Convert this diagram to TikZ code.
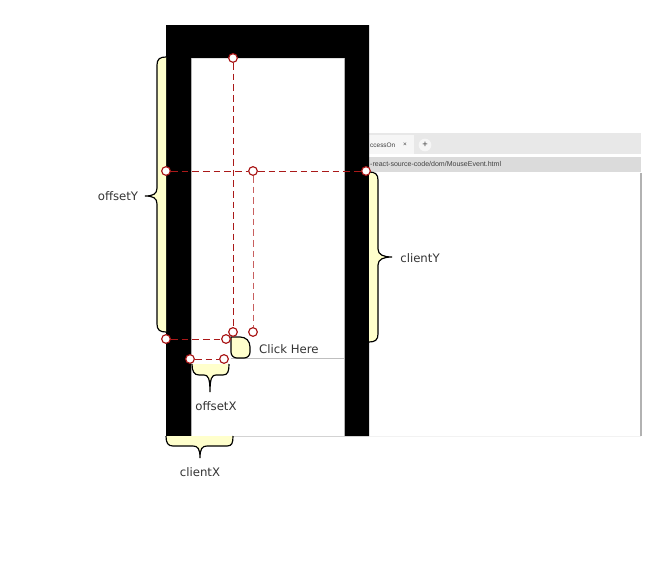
\documentclass[tikz,border=0pt]{standalone}
\usepackage{fontspec}
\setmainfont{DejaVu Sans}
\newfontfamily\uifont{Liberation Sans}
\definecolor{markred}{RGB}{170,25,25}
\definecolor{marklight}{RGB}{200,95,95}
\definecolor{braceyellow}{RGB}{255,255,204}
\definecolor{labelgray}{RGB}{51,51,51}
\begin{document}
\begin{tikzpicture}[x=0.03cm,y=-0.03cm,
    marker/.style={circle,draw=markred,fill=white,line width=1pt,minimum size=0.26cm,inner sep=0pt},
    guide/.style={draw=markred,line width=0.8pt,dash pattern=on 0.2cm off 0.12cm},
    guidelight/.style={guide,draw=marklight},
    curly/.style={draw=black,fill=braceyellow,line width=1pt},
    lbl/.style={text=labelgray,font=\fontsize{10}{12}\selectfont},
    ui/.style={text=black!75,inner sep=0pt,font=\uifont\fontsize{5.5}{6}\selectfont}]
  \useasboundingbox (0,0) rectangle (666,582);
  % browser behind the frame
  \fill[gray!18] (344,133) rectangle (641,154);
  \fill[gray!7] (344,135) rectangle (414,154);
  \fill[gray!28] (344,157) rectangle (641,172);
  \node[ui,anchor=west] (tab) at (370,145) {ccessOn};
  \node[ui] (tabx) at (405,145) {×};
  \node[ui,circle,fill=gray!7,inner sep=1.5pt,font=\uifont\fontsize{8}{8}\selectfont] (plus) at (425,145) {+};
  \node[ui,anchor=west,font=\uifont\fontsize{6}{7}\selectfont] (url) at (370,164) {-react-source-code/dom/MouseEvent.html};
  \draw[gray!60,line width=1pt] (641,173) -- (641,436);
  \draw[gray!10] (166,436) -- (641,436);
  % frame
  \fill[black,even odd rule] (166,25) rectangle (369,436) (191,58) rectangle (344,436);
  \draw[gray!60] (191,58) -- (191,436) (344,58) -- (344,436);
  % click element
  \draw[gray!50] (231,358) -- (344,358);
  \draw[curly] (231,337) -- (240,337) .. controls (246,337) and (250,341) .. (250,347) -- (250,352)
    .. controls (250,355.5) and (247.5,358) .. (244,358) -- (237,358)
    .. controls (233.5,358) and (231,355.5) .. (231,352) -- cycle;
  \node[lbl,anchor=west] (click) at (255,349) {Click Here};
  % braces
  \draw[curly] (166,57) .. controls (160,57) and (157,59) .. (157,65) -- (157,188)
    .. controls (157,194) and (153,196) .. (145,196) .. controls (153,196) and (157,198) .. (157,204)
    -- (157,324) .. controls (157,330) and (160,332) .. (166,332);
  \draw[curly] (369,172) .. controls (375,172) and (378,174) .. (378,180) -- (378,249)
    .. controls (378,255) and (384,257) .. (392,257) .. controls (384,257) and (378,259) .. (378,265)
    -- (378,334) .. controls (378,340) and (375,342) .. (369,342);
  \draw[curly] (192,364) .. controls (192,371) and (194,375) .. (199,375) -- (204,375)
    .. controls (208,375) and (210,378) .. (210,392) .. controls (210,378) and (212,375) .. (216,375)
    -- (223,375) .. controls (228,375) and (229,371) .. (229,364);
  \draw[curly] (166,436) .. controls (166,443) and (168,446) .. (173,446) -- (193,446)
    .. controls (198,446) and (200,449) .. (200,458) .. controls (200,449) and (202,446) .. (207,446)
    -- (227,446) .. controls (232,446) and (233,443) .. (233,436);
  \node[lbl] (offy) at (118,196) {offsetY};
  \node[lbl] (clienty) at (420,258) {clientY};
  \node[lbl] (offx) at (216,406) {offsetX};
  \node[lbl] (clientx) at (200,472) {clientX};
  % markers
  \node[marker] (vtop) at (233,58) {};
  \node[marker] (vbot) at (233,332) {};
  \node[marker] (hl) at (166,171) {};
  \node[marker] (hm) at (253,171) {};
  \node[marker] (hr) at (366,171) {};
  \node[marker] (mbot) at (253,332) {};
  \node[marker] (bl) at (166,339) {};
  \node[marker] (br) at (226,339) {};
  \node[marker] (xl) at (190,359) {};
  \node[marker] (xr) at (224,359) {};
  % guides
  \draw[guide] (vtop) -- (vbot);
  \draw[guide] (hl) -- (hm) -- (hr);
  \draw[guidelight] (hm) -- (mbot);
  \draw[guide] (bl) -- (br);
  \draw[guide] (xl) -- (xr);
\end{tikzpicture}
\end{document}
